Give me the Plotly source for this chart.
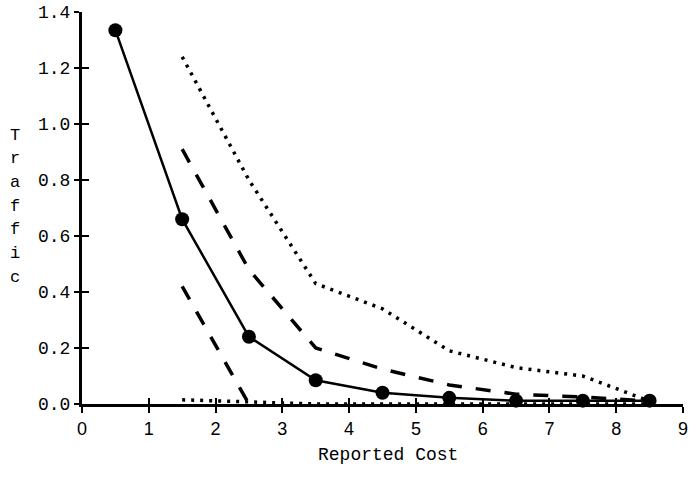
import plotly.graph_objects as go

cost = [0.5, 1.5, 2.5, 3.5, 4.5, 5.5, 6.5, 7.5, 8.5]
traffic_mean = [1.335, 0.66, 0.24, 0.085, 0.04, 0.022, 0.012, 0.012, 0.012]

upper_dotted_x = [1.5, 2.5, 3.5, 4.5, 5.5, 6.5, 7.5, 8.5]
upper_dotted_y = [1.24, 0.80, 0.43, 0.34, 0.19, 0.13, 0.10, 0.01]

upper_dashed_x = [1.5, 2.5, 3.5, 4.5, 5.5, 6.5, 7.5, 8.5]
upper_dashed_y = [0.91, 0.48, 0.20, 0.125, 0.068, 0.035, 0.025, 0.01]

lower_dashed_x = [1.5, 2.5]
lower_dashed_y = [0.42, 0.0]

lower_dotted_x = [1.5, 2.5, 3.5, 4.5, 5.5, 6.5, 7.5, 8.5]
lower_dotted_y = [0.015, 0.008, 0.0, 0.0, 0.0, 0.0, 0.0, 0.0]

x_ticks = [0, 1, 2, 3, 4, 5, 6, 7, 8, 9]
y_ticks = [0.0, 0.2, 0.4, 0.6, 0.8, 1.0, 1.2, 1.4]
y_tick_labels = ["0.0", "0.2", "0.4", "0.6", "0.8", "1.0", "1.2", "1.4"]

y_title_letters = ["T", "r", "a", "f", "f", "i", "c"]

fig = go.Figure()

fig.add_trace(go.Scatter(x=upper_dotted_x, y=upper_dotted_y, mode="lines",
                         line=dict(color="black", width=3.5, dash="3px,6px"),
                         showlegend=False, hoverinfo="skip"))
fig.add_trace(go.Scatter(x=lower_dotted_x, y=lower_dotted_y, mode="lines",
                         line=dict(color="black", width=3.5, dash="3px,6px"),
                         showlegend=False, hoverinfo="skip"))
fig.add_trace(go.Scatter(x=upper_dashed_x, y=upper_dashed_y, mode="lines",
                         line=dict(color="black", width=3.5, dash="15px,14px"),
                         showlegend=False, hoverinfo="skip"))
fig.add_trace(go.Scatter(x=lower_dashed_x, y=lower_dashed_y, mode="lines",
                         line=dict(color="black", width=3.5, dash="15px,14px"),
                         showlegend=False, hoverinfo="skip"))
fig.add_trace(go.Scatter(x=cost, y=traffic_mean, mode="lines+markers",
                         line=dict(color="black", width=2.5),
                         marker=dict(color="black", size=14),
                         showlegend=False, cliponaxis=False))

# helper trace to activate overlay axes
fig.add_trace(go.Scatter(x=[0], y=[0], xaxis="x2", yaxis="y2", mode="markers",
                         marker=dict(opacity=0), showlegend=False, hoverinfo="skip"))

mono = "Liberation Mono, Courier New, monospace"
tick_font_y = dict(family=mono, size=18, color="black")
tick_font_x = dict(family="Liberation Sans Narrow, Liberation Sans, Arial", size=18, color="black")

# plot area: left 82.5, right 683, top 12, bottom 404 (pixels)
plot_top, plot_bottom = 12, 404
plot_left, plot_right = 82.5, 683


def py_to_paper(py):
    return (plot_bottom - py) / (plot_bottom - plot_top)


def px_to_paper(px):
    return (px - plot_left) / (plot_right - plot_left)


annotations = [
    dict(text="Reported Cost", xref="paper", yref="paper", x=px_to_paper(388),
         y=py_to_paper(455), xanchor="center", yanchor="middle", showarrow=False,
         font=dict(family=mono, size=18, color="black")),
]
for i, letter in enumerate(y_title_letters):
    annotations.append(dict(text=letter, xref="paper", yref="paper", x=px_to_paper(16),
                            y=py_to_paper(135 + 23.7 * i), xanchor="center",
                            yanchor="middle", showarrow=False,
                            font=dict(family=mono, size=17, color="black")))

fig.update_layout(
    width=689, height=483,
    margin=dict(l=82, r=6, t=12, b=79, autoexpand=False),
    paper_bgcolor="white", plot_bgcolor="white",
    xaxis=dict(range=[0, 9], tickvals=x_ticks, ticks="outside", ticklen=6, tickwidth=2,
               tickcolor="black", showline=True, linecolor="black", linewidth=3,
               showgrid=False, zeroline=False, tickfont=tick_font_x, ticklabelstandoff=0,
               automargin=False),
    yaxis=dict(range=[0, 1.4], tickvals=y_ticks, ticktext=y_tick_labels, ticks="outside",
               ticklen=5, tickwidth=2, tickcolor="black", showline=True, linecolor="black",
               linewidth=3, showgrid=False, zeroline=False, tickfont=tick_font_y,
               automargin=False),
    xaxis2=dict(range=[0, 9], overlaying="x", anchor="y2", side="bottom", tickvals=x_ticks,
                ticks="inside", ticklen=6, tickwidth=2, tickcolor="black",
                showticklabels=False, showgrid=False, zeroline=False, showline=False,
                automargin=False),
    yaxis2=dict(range=[0, 1.4], overlaying="y", anchor="x2", side="left", tickvals=y_ticks,
                ticks="inside", ticklen=7, tickwidth=2, tickcolor="black",
                showticklabels=False, showgrid=False, zeroline=False, showline=False,
                automargin=False),
    annotations=annotations,
)

fig.write_html("out.html", config={"displayModeBar": False},
               post_script="document.body.style.margin='0';")
